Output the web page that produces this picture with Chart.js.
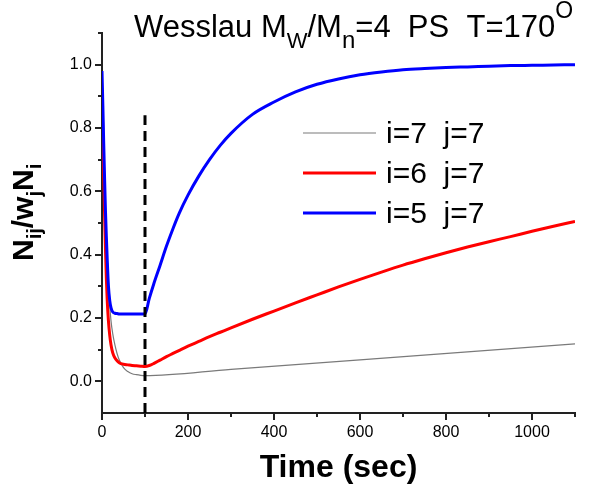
<!DOCTYPE html>
<html>
<head>
<meta charset="utf-8">
<script src="https://cdn.jsdelivr.net/npm/chart.js@4.4.1/dist/chart.umd.min.js"></script>
<style>
    body { margin: 0; background: #fff; }
</style>
</head>
<body>
<canvas id="chart" width="590" height="488"></canvas>
<script>
const FONT = "'Liberation Sans', Arial, sans-serif";

// i=7 j=7 (thin gray)
const grayTime = [0, 2, 4, 6, 8, 10, 12, 15, 18, 21, 25, 30, 35, 40, 50, 60, 70, 80, 90, 100, 300, 600, 850, 1100];
const grayVals = [0.85, 0.76, 0.68, 0.61, 0.55, 0.47, 0.40, 0.31, 0.24, 0.19, 0.15, 0.115, 0.088, 0.068, 0.043, 0.031, 0.024, 0.021, 0.019, 0.018, 0.038, 0.068, 0.093, 0.118];

// i=6 j=7 (red)
const redTime = [0, 2, 4, 6, 8, 10, 12, 15, 18, 21, 25, 30, 35, 40, 50, 60, 70, 80, 90, 100, 110, 120, 135, 150, 165, 180, 200, 225, 250, 275, 300, 350, 400, 450, 500, 550, 600, 650, 700, 750, 800, 850, 900, 950, 1000, 1050, 1100];
const redVals = [0.90, 0.78, 0.65, 0.53, 0.42, 0.33, 0.26, 0.19, 0.145, 0.115, 0.09, 0.074, 0.065, 0.059, 0.054, 0.052, 0.050, 0.049, 0.048, 0.047, 0.050, 0.056, 0.067, 0.078, 0.088, 0.098, 0.111, 0.126, 0.141, 0.155, 0.169, 0.196, 0.222, 0.248, 0.273, 0.298, 0.322, 0.345, 0.367, 0.387, 0.406, 0.424, 0.441, 0.457, 0.474, 0.490, 0.505];

// i=5 j=7 (blue)
const blueTime = [0, 2, 4, 6, 8, 10, 12, 15, 18, 21, 25, 30, 35, 40, 60, 80, 100, 110, 120, 135, 150, 165, 180, 200, 225, 250, 275, 300, 350, 400, 450, 500, 550, 600, 650, 700, 750, 800, 850, 900, 950, 1000, 1050, 1100];
const blueVals = [0.98, 0.87, 0.75, 0.64, 0.54, 0.46, 0.39, 0.30, 0.255, 0.232, 0.219, 0.215, 0.214, 0.213, 0.213, 0.213, 0.213, 0.262, 0.306, 0.366, 0.427, 0.482, 0.532, 0.588, 0.648, 0.700, 0.745, 0.783, 0.843, 0.882, 0.914, 0.938, 0.955, 0.968, 0.977, 0.984, 0.988, 0.991, 0.993, 0.995, 0.997, 0.998, 0.999, 1.0];

// vertical dashed marker
const dashTime = [100, 100];
const dashVals = [-0.1, 0.84];

const seriesLabels = ["i=7  j=7", "i=6  j=7", "i=5  j=7"];

const xTicks = [0, 200, 400, 600, 800, 1000];
const yTicks = [0.0, 0.2, 0.4, 0.6, 0.8, 1.0];

function points(xs, ys)
{
    return xs.map((x, i) => ({ x: x, y: ys[i] }));
}

// draw a run of text pieces with sub/superscript offsets
function drawRich(ctx, x, y, parts)
{
    parts.forEach(p =>
    {
        ctx.font = p.font;
        ctx.fillText(p.text, x, y + (p.dy || 0));
        x += ctx.measureText(p.text).width;
    });
}

const decorPlugin =
{
    id: "decor",
    afterDraw(chart)
    {
        const ctx = chart.ctx;
        const xs = chart.scales.x;
        const ys = chart.scales.y;
        const area = chart.chartArea;

        ctx.save();

        // minor ticks
        ctx.strokeStyle = "#222";
        ctx.lineWidth = 2;
        ctx.beginPath();
        for(let v = 100; v <= 1100; v += 200)
        {
            const px = Math.round(xs.getPixelForValue(v));
            ctx.moveTo(px, area.bottom);
            ctx.lineTo(px, area.bottom + 4);
        }
        for(let k = 0; k < 6; k++)
        {
            const py = Math.round(ys.getPixelForValue(0.1 + 0.2 * k));
            ctx.moveTo(area.left, py);
            ctx.lineTo(area.left - 4, py);
        }
        ctx.stroke();

        // legend
        ctx.textBaseline = "middle";
        ctx.fillStyle = "#000";
        ctx.font = "30px " + FONT;
        let row = 0;
        chart.data.datasets.forEach(ds =>
        {
            if(!ds.inLegend) return;
            const y = 133 + row * 40;
            ctx.strokeStyle = ds.borderColor;
            ctx.lineWidth = ds.borderWidth;
            ctx.beginPath();
            ctx.moveTo(303, y);
            ctx.lineTo(376, y);
            ctx.stroke();
            ctx.fillText(ds.label, 386, y + 2);
            row++;
        });

        // title
        ctx.textBaseline = "alphabetic";
        drawRich(ctx, 134, 37, [
            { text: "Wesslau M", font: "31px " + FONT },
            { text: "W", font: "22px " + FONT, dy: 11 },
            { text: "/M", font: "31px " + FONT },
            { text: "n", font: "24px " + FONT, dy: 11 },
            { text: "=4  PS  T=170", font: "31px " + FONT },
            { text: "O", font: "23px " + FONT, dy: -19 }
        ]);

        // y axis title
        ctx.translate(33, 261);
        ctx.rotate(-Math.PI / 2);
        drawRich(ctx, 0, 0, [
            { text: "N", font: "bold 30px " + FONT },
            { text: "ij", font: "bold 20px " + FONT, dy: 8 },
            { text: "/w", font: "bold 30px " + FONT },
            { text: "j", font: "bold 20px " + FONT, dy: 8 },
            { text: "N", font: "bold 30px " + FONT },
            { text: "i", font: "bold 20px " + FONT, dy: 8 }
        ]);

        ctx.restore();
    }
};

const datasets = [
    {
        label: seriesLabels[0],
        data: points(grayTime, grayVals),
        borderColor: "#7a7a7a",
        borderWidth: 1.2,
        order: 3,
        inLegend: true
    },
    {
        label: seriesLabels[1],
        data: points(redTime, redVals),
        borderColor: "#ff0000",
        borderWidth: 3,
        order: 2,
        inLegend: true
    },
    {
        label: seriesLabels[2],
        data: points(blueTime, blueVals),
        borderColor: "#0000ff",
        borderWidth: 3,
        order: 1,
        inLegend: true
    },
    {
        label: "marker",
        data: points(dashTime, dashVals),
        borderColor: "#000",
        borderWidth: 3,
        borderDash: [10, 6],
        cubicInterpolationMode: "default",
        tension: 0,
        order: 0,
        inLegend: false
    }
];

new Chart(
    document.getElementById("chart"),
    {
        type: "line",
        data: { datasets },
        options:
        {
            responsive: false,
            animation: false,
            devicePixelRatio: 1,
            layout: { padding: { top: 33, right: 15, left: 0, bottom: 0 } },
            elements:
            {
                point: { radius: 0 },
                line: { cubicInterpolationMode: "monotone", fill: false }
            },
            plugins:
            {
                legend: { display: false },
                tooltip: { enabled: false }
            },
            scales:
            {
                x:
                {
                    type: "linear",
                    min: 0,
                    max: 1100,
                    afterBuildTicks: s => { s.ticks = xTicks.map(v => ({ value: v })); },
                    afterFit: s => { s.height = 75; },
                    ticks:
                    {
                        color: "#000",
                        padding: 3,
                        maxRotation: 0,
                        font: { family: FONT, size: 16 },
                        callback: v => String(v)
                    },
                    grid:
                    {
                        drawOnChartArea: false,
                        tickLength: 7,
                        lineWidth: 2,
                        color: "#222"
                    },
                    border: { color: "#222", width: 2 },
                    title:
                    {
                        display: true,
                        text: "Time (sec)",
                        color: "#000",
                        padding: { top: 0, bottom: 1 },
                        font: { family: FONT, size: 32, weight: "bold" }
                    }
                },
                y:
                {
                    min: -0.1,
                    max: 1.1,
                    afterBuildTicks: s => { s.ticks = yTicks.map(v => ({ value: v })); },
                    afterFit: s => { s.width = 102; },
                    ticks:
                    {
                        color: "#000",
                        padding: 3,
                        font: { family: FONT, size: 16 },
                        callback: v => Number(v).toFixed(1)
                    },
                    grid:
                    {
                        drawOnChartArea: false,
                        tickLength: 7,
                        lineWidth: 2,
                        color: "#222"
                    },
                    border: { color: "#222", width: 2 }
                }
            }
        },
        plugins: [decorPlugin]
    }
);
</script>
</body>
</html>
